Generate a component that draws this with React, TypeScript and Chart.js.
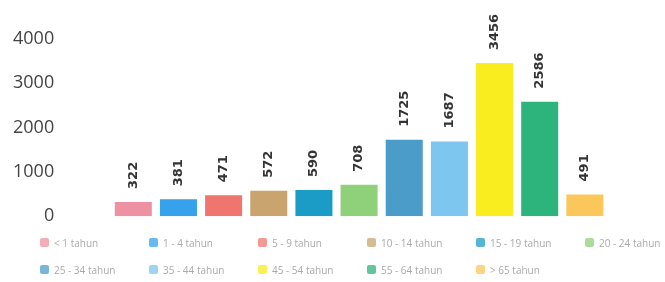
import React, { useEffect, useRef } from "react";
import { Chart, registerables } from "chart.js";

Chart.register(...registerables);

const categories = [""];
const seriesNames = [
  "< 1 tahun",
  "1 - 4 tahun",
  "5 - 9 tahun",
  "10 - 14 tahun",
  "15 - 19 tahun",
  "20 - 24 tahun",
  "25 - 34 tahun",
  "35 - 44 tahun",
  "45 - 54 tahun",
  "55 - 64 tahun",
  "> 65 tahun",
];
const seriesValues = [322, 381, 471, 572, 590, 708, 1725, 1687, 3456, 2586, 491];
const seriesColors = [
  "#ee91a2",
  "#36a2eb",
  "#f0756e",
  "#c9a46e",
  "#1b9cc6",
  "#8fd07a",
  "#4b9cc8",
  "#7cc6ef",
  "#f9ec1f",
  "#2db37c",
  "#fbc75a",
];
const yTicks = [0, 1000, 2000, 3000, 4000];

const valueLabels = {
  id: "valueLabels",
  afterDatasetsDraw(chart: any) {
    const ctx = chart.ctx;
    ctx.save();
    ctx.font = "bold 13px 'DejaVu Sans'";
    ctx.fillStyle = "#333";
    ctx.textAlign = "left";
    ctx.textBaseline = "middle";
    chart.data.datasets.forEach((ds: any, i: number) => {
      const meta = chart.getDatasetMeta(i);
      meta.data.forEach((el: any, j: number) => {
        ctx.save();
        ctx.translate(el.x, el.y - 13);
        ctx.rotate(-Math.PI / 2);
        ctx.fillText(String(ds.data[j]), 0, 0);
        ctx.restore();
      });
    });
    ctx.restore();
  },
};

export default function App() {
  const canvasRef = useRef<HTMLCanvasElement>(null);

  useEffect(() => {
    if (!canvasRef.current) return;
    const chart = new Chart(canvasRef.current, {
      type: "bar",
      data: {
        labels: categories,
        datasets: seriesNames.map((name, i) => ({
          label: name,
          data: [seriesValues[i]],
          backgroundColor: seriesColors[i],
          borderWidth: 0,
        })),
      },
      options: {
        responsive: false,
        animation: false,
        categoryPercentage: 0.845,
        barPercentage: 0.82,
        layout: { padding: { top: 39, right: 12, bottom: 0, left: 10 } },
        plugins: {
          legend: { display: false },
          tooltip: { enabled: false },
        },
        scales: {
          x: { display: false },
          y: {
            min: 0,
            max: 4000,
            afterBuildTicks(scale: any) {
              scale.ticks = yTicks.map((v) => ({ value: v }));
            },
            grid: { display: false },
            border: { display: false },
            ticks: {
              color: "#444",
              font: { family: "'Open Sans'", size: 18 },
              padding: 3,
              callback: (v: any) => String(v),
            },
          },
        },
      },
      plugins: [valueLabels],
    } as any);
    return () => chart.destroy();
  }, []);

  return (
    <div
      style={{
        position: "absolute",
        left: 0,
        top: 0,
        width: 665,
        height: 282,
        background: "#fff",
        overflow: "hidden",
      }}
    >
      <canvas ref={canvasRef} width={665} height={230} style={{ display: "block" }} />
      <div
        style={{
          position: "absolute",
          left: 40,
          top: 229,
          width: 660,
          display: "flex",
          flexWrap: "wrap",
          fontFamily: "'Open Sans'",
          fontSize: 10,
          color: "#aaa",
        }}
      >
        {seriesNames.map((name, i) => (
          <div
            key={name}
            style={{
              width: 109,
              height: 27,
              display: "flex",
              alignItems: "center",
              whiteSpace: "nowrap",
            }}
          >
            <span
              style={{
                display: "inline-block",
                width: 9,
                height: 9,
                borderRadius: 2,
                background: seriesColors[i],
                opacity: 0.75,
                marginRight: 5,
              }}
            />
            <span>{name}</span>
          </div>
        ))}
      </div>
    </div>
  );
}
